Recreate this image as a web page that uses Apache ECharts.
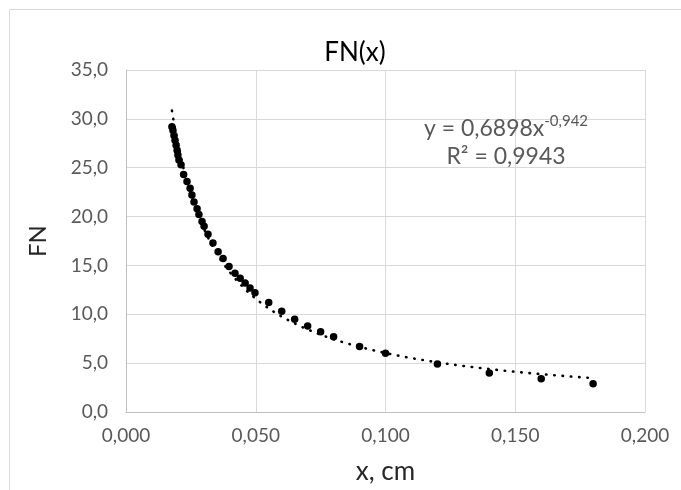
<!DOCTYPE html>
<html>
<head>
<meta charset="utf-8">
<script src="https://cdn.jsdelivr.net/npm/echarts@6/dist/echarts.min.js"></script>
<style>
html,body{margin:0;padding:0;background:#fff;}
#chart{width:681px;height:490px;}
</style>
</head>
<body>
<div id="chart"></div>
<script>
// ---- Data ----
var xValues = [0.0177, 0.0181, 0.0185, 0.0189, 0.0193, 0.0197, 0.0200, 0.0204, 0.0212, 0.0222,
  0.0235, 0.0247, 0.0254, 0.0262, 0.0274, 0.0281, 0.0293, 0.0301, 0.0316, 0.0335,
  0.0355, 0.0374, 0.0397, 0.0420, 0.0440, 0.0459, 0.0478, 0.0497,
  0.055, 0.060, 0.065, 0.070, 0.075, 0.080, 0.090, 0.100, 0.120, 0.140, 0.160, 0.180];
var fnValues = [29.2, 28.8, 28.3, 27.8, 27.3, 26.8, 26.3, 25.8, 25.3, 24.3,
  23.6, 22.9, 22.2, 21.5, 20.8, 20.2, 19.5, 19.0, 18.2, 17.3,
  16.4, 15.7, 14.9, 14.2, 13.7, 13.2, 12.7, 12.2,
  11.2, 10.3, 9.5, 8.8, 8.2, 7.7, 6.7, 6.0, 4.9, 4.0, 3.4, 2.9];
var xTicks = [0, 0.05, 0.10, 0.15, 0.20];
var yTicks = [0, 5, 10, 15, 20, 25, 30, 35];
// Power trendline shown on the chart: y = 0,6898 x^-0,942, R² = 0,9943
var trendA = 0.6898;
var trendB = -0.942;
var trendR2 = 0.9943;
var chartTitle = 'FN(x)';
var xName = 'x, cm';
var yName = 'FN';

function comma(v, d) { return v.toFixed(d).replace('.', ','); }

var scatterData = xValues.map(function (x, i) { return [x, fnValues[i]]; });
var xMinData = Math.min.apply(null, xValues);
var xMaxData = Math.max.apply(null, xValues);
var trendData = [];
for (var k = 0; k <= 300; k++) {
  var xx = xMinData + (xMaxData - xMinData) * k / 300;
  trendData.push([xx, trendA * Math.pow(xx, trendB)]);
}

var FONT = 'Lato, "Open Sans", sans-serif';
var chart = echarts.init(document.getElementById('chart'), null, {renderer: 'canvas'});
chart.setOption({
  animation: false,
  backgroundColor: '#ffffff',
  textStyle: {fontFamily: FONT},
  title: {
    text: chartTitle,
    left: 350, top: 35,
    textAlign: 'center',
    textStyle: {fontFamily: FONT, fontSize: 26, fontWeight: 'normal', color: '#000000'}
  },
  grid: {left: 126, right: 36, top: 70, bottom: 70, containLabel: false},
  xAxis: {
    type: 'value', min: xTicks[0], max: xTicks[xTicks.length - 1], interval: xTicks[1] - xTicks[0],
    name: xName, nameLocation: 'middle', nameGap: 47,
    nameTextStyle: {fontFamily: FONT, fontSize: 26, color: '#262626'},
    axisLine: {show: true, lineStyle: {color: '#bfbfbf', width: 1}},
    axisTick: {show: false},
    axisLabel: {fontFamily: FONT, fontSize: 19, color: '#595959', margin: 14,
      formatter: function (v) { return comma(v, 3); }},
    splitLine: {show: true, lineStyle: {color: '#d9d9d9', width: 1}}
  },
  yAxis: {
    type: 'value', min: yTicks[0], max: yTicks[yTicks.length - 1], interval: yTicks[1] - yTicks[0],
    name: yName, nameLocation: 'middle', nameGap: 76, nameRotate: 90,
    nameTextStyle: {fontFamily: FONT, fontSize: 24, color: '#262626'},
    axisLine: {show: true, lineStyle: {color: '#bfbfbf', width: 1}},
    axisTick: {show: false},
    axisLabel: {fontFamily: FONT, fontSize: 19, color: '#595959', margin: 18,
      formatter: function (v) { return comma(v, 1); }},
    splitLine: {show: true, lineStyle: {color: '#d9d9d9', width: 1}}
  },
  graphic: [
    {type: 'rect', shape: {x: 9.5, y: 9.5, width: 720, height: 520},
      style: {fill: 'none', stroke: '#d9d9d9', lineWidth: 1}, silent: true, z: -10},
    {type: 'text', x: 506, y: 127, z: 50,
      style: {
        text: '{a|y = ' + comma(trendA, 4) + 'x}{s|' + comma(trendB, 3) + '}',
        align: 'center', verticalAlign: 'middle', fill: '#595959',
        rich: {
          a: {fontFamily: FONT, fontSize: 23, lineHeight: 26, fill: '#595959', color: '#595959', verticalAlign: 'bottom'},
          s: {fontFamily: FONT, fontSize: 15, lineHeight: 15, fill: '#595959', color: '#595959', verticalAlign: 'top'}
        }
      }},
    {type: 'text', x: 506, y: 157, z: 50,
      style: {text: 'R\u00B2 = ' + comma(trendR2, 4), align: 'center', verticalAlign: 'middle',
        fontFamily: FONT, fontSize: 23, fill: '#595959'}}
  ],
  series: [
    {
      type: 'line', data: trendData, showSymbol: false, symbol: 'none', smooth: false,
      lineStyle: {color: '#000000', width: 2.6, type: [0.5, 7.8], cap: 'round'},
      z: 3, silent: true
    },
    {
      type: 'scatter', data: scatterData, symbol: 'circle', symbolSize: 7.5,
      itemStyle: {color: '#000000', opacity: 1}, z: 4
    }
  ]
});
</script>
</body>
</html>
